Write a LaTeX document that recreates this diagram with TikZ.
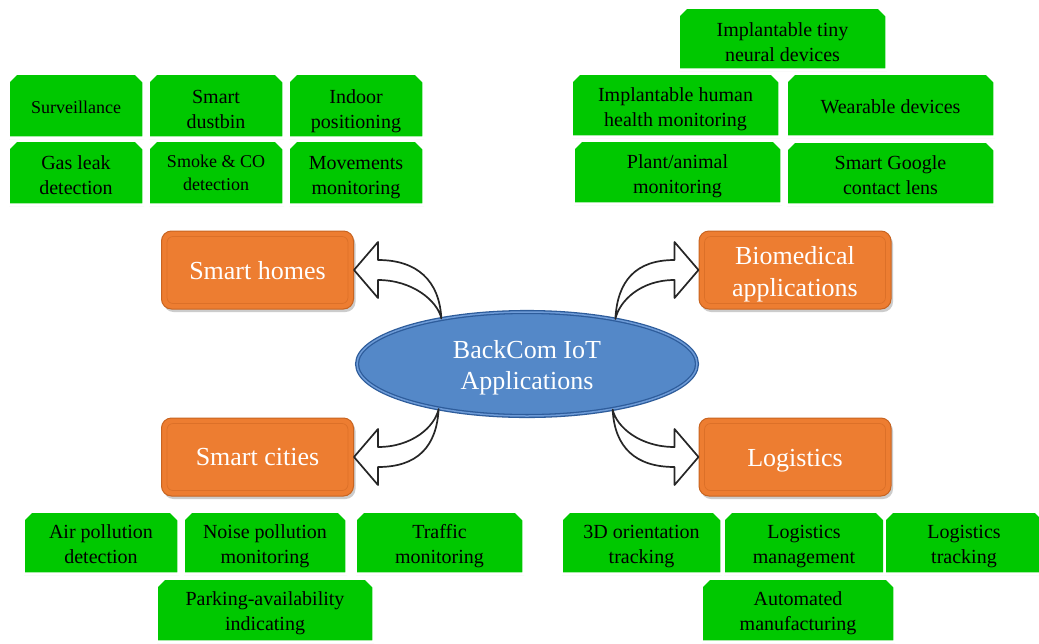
\documentclass[tikz,border=0pt]{standalone}
\usepackage{fontspec}
\setmainfont{Liberation Serif}
\usetikzlibrary{shapes.misc,shapes.geometric,shadows,calc}
\definecolor{gfill}{RGB}{0,200,0}
\definecolor{ofill}{RGB}{237,125,49}
\definecolor{oedge}{RGB}{200,100,32}
\definecolor{oinner}{RGB}{220,112,40}
\definecolor{bfill}{RGB}{84,136,200}
\definecolor{bedge}{RGB}{45,92,155}
\definecolor{blight}{RGB}{110,155,215}
\newcommand\lowtxt[2]{\raisebox{-#1}[\height][\depth]{\begin{tabular}{@{}c@{}}#2\end{tabular}}}
\newcommand\bkarrow[4]{%
  \draw[barrow] (#1)
    .. controls ($(#1)+({(#3)*(-2)},{(#4)*(-38)})$) and ($(#2)+({(#3)*63},{(#4)*(-10)})$)
    .. ($(#2)+({(#3)*24},{(#4)*(-10)})$)
    -- ($(#2)+({(#3)*24},{(#4)*(-28)})$)
    -- (#2)
    -- ($(#2)+({(#3)*24},{(#4)*28})$)
    -- ($(#2)+({(#3)*24},{(#4)*10})$)
    .. controls ($(#2)+({(#3)*58},{(#4)*10})$) and ($(#1)+({(#3)*(-4)},{(#4)*(-18)})$)
    .. (#1) -- cycle;}
\begin{document}
\begin{tikzpicture}[x=1pt,y=-1pt,
  gbox/.style={chamfered rectangle, chamfered rectangle corners={north west,north east},
    chamfered rectangle xsep=5pt, fill=gfill, draw=white, line width=2.5pt,
    drop shadow={opacity=0.3, shadow xshift=0.5pt, shadow yshift=-1.5pt},
    inner sep=0pt, align=center, text=black, font=\fontsize{20}{25}\selectfont},
  gsmall/.style={font=\fontsize{18}{23}\selectfont},
  obox/.style={rounded corners=10pt, fill=ofill, draw=oedge, line width=1pt,
    minimum width=192pt, minimum height=78pt, inner sep=0pt, align=center, text=white,
    drop shadow={opacity=0.4, shadow xshift=2pt, shadow yshift=-3pt},
    font=\fontsize{26}{32}\selectfont},
  oin/.style={draw=oinner, line width=0.7pt, rounded corners=6pt},
  ell/.style={ellipse, fill=bfill, draw=bedge, line width=1.3pt, double=blight,
    double distance=1.5pt, minimum width=340pt, minimum height=104pt, inner sep=0pt,
    align=center, text=white, font=\fontsize{26}{31}\selectfont,
    drop shadow={opacity=0.2, shadow xshift=1pt, shadow yshift=-2pt}},
  barrow/.style={draw=black!85, fill=white, line width=1.7pt, line join=round}
]
\useasboundingbox (0,0) rectangle (1039,643);
\fill[white] (0,0) rectangle (1039,643);

% smart homes group
\node[gbox, gsmall, minimum width=135pt, minimum height=64pt] (surv) at (76,105.5) {\lowtxt{3pt}{Surveillance}};
\node[gbox, minimum width=135pt, minimum height=64pt] (dust) at (216,105.5) {\lowtxt{5pt}{Smart\\dustbin}};
\node[gbox, minimum width=135pt, minimum height=64pt] (indoor) at (356,105.5) {\lowtxt{5pt}{Indoor\\positioning}};
\node[gbox, minimum width=135pt, minimum height=64pt] (gas) at (76,172.5) {\lowtxt{4pt}{Gas leak\\detection}};
\node[gbox, gsmall, minimum width=135pt, minimum height=64pt] (smoke) at (216,172.5) {\lowtxt{2pt}{Smoke \& CO\\detection}};
\node[gbox, minimum width=135pt, minimum height=64pt] (move) at (356,172.5) {\lowtxt{4pt}{Movements\\monitoring}};

% biomedical group
\node[gbox, minimum width=208pt, minimum height=62pt] (neural) at (782.5,38.5) {\lowtxt{5pt}{Implantable tiny\\neural devices}};
\node[gbox, minimum width=208pt, minimum height=63pt] (human) at (675.5,105) {\lowtxt{4pt}{Implantable human\\health monitoring}};
\node[gbox, minimum width=208pt, minimum height=63pt] (wear) at (890.5,105) {\lowtxt{3pt}{Wearable devices}};
\node[gbox, minimum width=208pt, minimum height=63pt] (plant) at (677.5,172) {\lowtxt{4pt}{Plant/animal\\monitoring}};
\node[gbox, minimum width=208pt, minimum height=63pt] (google) at (890.5,173) {\lowtxt{4pt}{Smart Google\\contact lens}};

% smart cities group
\node[gbox, minimum width=155pt, minimum height=62pt] (air) at (101,542.5) {\lowtxt{3pt}{Air pollution\\detection}};
\node[gbox, minimum width=163pt, minimum height=62pt] (noise) at (265,542.5) {\lowtxt{3pt}{Noise pollution\\monitoring}};
\node[gbox, minimum width=168pt, minimum height=62pt] (traffic) at (439.5,542.5) {\lowtxt{3pt}{Traffic\\monitoring}};
\node[gbox, minimum width=217pt, minimum height=63pt] (park) at (265,610) {\lowtxt{3pt}{Parking-availability\\indicating}};

% logistics group
\node[gbox, minimum width=160pt, minimum height=62pt] (orient) at (641.5,542.5) {\lowtxt{3pt}{3D orientation\\tracking}};
\node[gbox, minimum width=161pt, minimum height=62pt] (lman) at (804,542.5) {\lowtxt{3pt}{Logistics\\management}};
\node[gbox, minimum width=159pt, minimum height=62pt] (ltrack) at (964,542.5) {\lowtxt{3pt}{Logistics\\tracking}};
\node[gbox, minimum width=193pt, minimum height=63pt] (auto) at (798,610) {\lowtxt{3pt}{Automated\\manufacturing}};

% category boxes
\node[obox] (hm) at (257.5,270) {\lowtxt{3pt}{Smart homes}};
\node[obox] (bm) at (795,270) {\lowtxt{4pt}{Biomedical\\applications}};
\node[obox] (sc) at (257.5,457) {\lowtxt{2pt}{Smart cities}};
\node[obox] (lg) at (795,457) {\lowtxt{3pt}{Logistics}};
\foreach \n in {hm,bm,sc,lg}{
  \draw[oin] ([shift={(6,6)}]\n.north west) rectangle ([shift={(-6,-6)}]\n.south east);
}

% centre
\node[ell] (ap) at (527,364) {\lowtxt{4pt}{BackCom IoT\\Applications}};

% curved block arrows
\bkarrow{ap.152.7}{hm.east}{1}{1}
\bkarrow{ap.27.3}{bm.west}{-1}{1}
\bkarrow{ap.207.3}{sc.east}{1}{-1}
\bkarrow{ap.332.7}{lg.west}{-1}{-1}
\end{tikzpicture}
\end{document}
